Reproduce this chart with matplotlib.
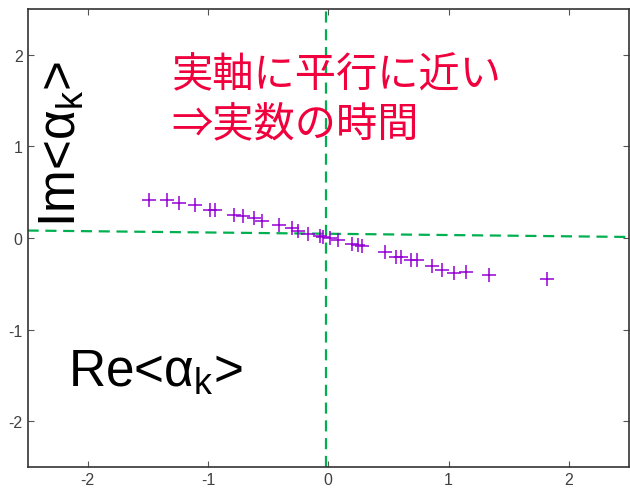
import matplotlib
matplotlib.use("Agg")
import matplotlib.pyplot as plt

# eigenvalue positions <alpha_k> in the complex plane
re_alpha = [-1.49, -1.34, -1.24, -1.11, -0.985, -0.944, -0.786, -0.708, -0.620, -0.553,
            -0.409, -0.300, -0.252, -0.165, -0.067, -0.042, 0.012, 0.081, 0.199, 0.248,
            0.282, 0.473, 0.566, 0.607, 0.690, 0.738, 0.865, 0.948, 1.047, 1.147,
            1.337, 1.820]
im_alpha = [0.418, 0.408, 0.386, 0.359, 0.304, 0.299, 0.250, 0.234, 0.212, 0.185,
            0.141, 0.103, 0.078, 0.041, 0.020, 0.009, -0.002, -0.022, -0.065, -0.078,
            -0.089, -0.155, -0.212, -0.212, -0.241, -0.241, -0.302, -0.346, -0.383, -0.367,
            -0.404, -0.451]

# guide lines
hline_x = [-2.5, 2.5]
hline_y = [0.08, 0.01]
vline_x = [-0.015, -0.015]
vline_y = [-2.5, 2.5]

xticks = [-2, -1, 0, 1, 2]
yticks = [-2, -1, 0, 1, 2]

plt.rcParams['font.family'] = ['Liberation Sans', 'DejaVu Sans']
plt.rcParams['mathtext.fontset'] = 'custom'
plt.rcParams['mathtext.rm'] = 'Liberation Sans'
plt.rcParams['axes.unicode_minus'] = False

fig = plt.figure(figsize=(6.3, 4.89), dpi=100)
ax = fig.add_axes([0.0438, 0.043, 0.9546, 0.937])

ax.plot(hline_x, hline_y, color='#00b050', lw=1.6, dashes=(5, 3))
ax.plot(vline_x, vline_y, color='#00b050', lw=1.6, dashes=(5, 3))
ax.plot(re_alpha, im_alpha, ls='none', marker='+', ms=10, mew=1.1, color='#9400d3')

ax.set_xlim(-2.5, 2.5)
ax.set_ylim(-2.5, 2.5)
ax.set_xticks(xticks)
ax.set_yticks(yticks)
ax.tick_params(direction='in', length=4, width=0.8, top=True, right=True,
               labelsize=11.5, labelcolor='#404040', color='#555555')
for s in ax.spines.values():
    s.set_color('#333333')
    s.set_linewidth(1.2)

fig.text(0.246, 0.238, r'Re<α$_{\mathregular{k}}$>', fontsize=37, ha='center', va='center')
fig.text(0.098, 0.705, r'Im<α$_{\mathregular{k}}$>', fontsize=37, ha='center', va='center',
         rotation=90)

jp = ['Noto Sans CJK JP', 'DejaVu Sans']
fig.text(0.272, 0.845, '実軸に平行に近い', fontsize=29.7, color='#f0003c', family=jp,
         ha='left', va='center')
fig.text(0.272, 0.742, '⇒実数の時間', fontsize=29.7, color='#f0003c', family=jp,
         ha='left', va='center')

fig.savefig('out.png', dpi=100)
